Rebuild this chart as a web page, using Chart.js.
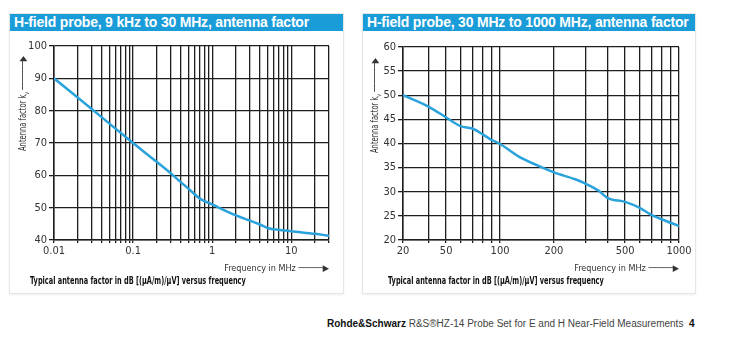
<!DOCTYPE html>
<html>
<head>
<meta charset="utf-8">
<script src="https://cdn.jsdelivr.net/npm/chart.js@4.4.1/dist/chart.umd.min.js"></script>
<style>
    body { margin: 0; width: 731px; height: 347px; background: #fff; position: relative; overflow: hidden; }
    .panel { position: absolute; top: 13px; height: 279px; border: 1px solid #e6e6e6; box-shadow: 0 1px 2px #eee; background: #fff; }
    .title { height: 17px; background: #1a9cd8; color: #fff; font: bold 14px 'Liberation Sans', Arial, sans-serif; letter-spacing: -0.2px; line-height: 17px; padding-left: 4px; white-space: nowrap; overflow: hidden; }
    .panel canvas { position: absolute; left: 0; top: 17px; }
    .caption { position: absolute; top: 261px; font: bold 10px 'DejaVu Sans Condensed', sans-serif; color: #111; white-space: nowrap; transform-origin: left top; transform: scaleX(0.73); }
    .ytitle { position: absolute; font: 10px 'DejaVu Sans Condensed', sans-serif; color: #333; white-space: nowrap; line-height: 11px; transform-origin: left top; transform: rotate(-90deg) scaleX(0.75); }
    .ytitle sub { font-size: 7px; }
    .footer { position: absolute; left: 327px; top: 318px; font: 10px 'Liberation Sans', Arial, sans-serif; color: #444; white-space: nowrap; }
    .footer b { color: #111; }
</style>
</head>
<body>
<div class="panel" id="p1" style="left:9px; width:333px;">
    <div class="title">H-field probe, 9 kHz to 30 MHz, antenna factor</div>
    <canvas id="chart1"></canvas>
    <div class="ytitle" style="left:7px; top:137px;">Antenna factor k<sub>v</sub> &#x2500;&#x2500;&#x2500;&#x2500;&#x2500;&#x2500;&#x2500;&#x25B6;</div>
    <div class="caption" style="left:20px;">Typical antenna factor in dB [(μA/m)/μV] versus frequency</div>
</div>
<div class="panel" id="p2" style="left:362px; width:332px;">
    <div class="title">H-field probe, 30 MHz to 1000 MHz, antenna factor</div>
    <canvas id="chart2"></canvas>
    <div class="ytitle" style="left:6px; top:139px;">Antenna factor k<sub>v</sub> &#x2500;&#x2500;&#x2500;&#x2500;&#x2500;&#x2500;&#x2500;&#x25B6;</div>
    <div class="caption" style="left:25px;">Typical antenna factor in dB [(μA/m)/μV] versus frequency</div>
</div>
<div class="footer"><b>Rohde&amp;Schwarz</b> R&amp;S®HZ-14 Probe Set for E and H Near-Field Measurements&nbsp; <b>4</b></div>

<script>
// 9 kHz .. 30 MHz probe
const lowFreq = [0.01, 0.03, 0.1, 0.2, 0.3, 0.4, 0.5, 0.7, 1, 2, 3, 4, 5, 6, 8, 10, 20, 30];
const lowFactor = [90, 80.5, 70, 64.1, 60.6, 57.9, 55.9, 52.8, 51, 47.6, 46, 44.8, 43.7, 43.3, 43, 42.7, 41.9, 41.3];
const lowGrid = [0.01, 0.02, 0.03, 0.04, 0.05, 0.06, 0.07, 0.08, 0.09,
    0.1, 0.2, 0.3, 0.4, 0.5, 0.6, 0.7, 0.8, 0.9,
    1, 2, 3, 4, 5, 6, 7, 8, 9, 10, 20, 30];
const lowTickValues = [0.01, 0.1, 1, 10];
const lowTickLabels = ['0.01', '0.1', '1', '10'];

// 30 .. 1000 MHz probe (left edge of the printed axis is labelled "20")
const highFreq = [28.7, 40, 50, 60, 70, 80, 90, 100, 126, 163, 200, 263, 300, 356, 400, 500, 600, 700, 800, 1000];
const highFactor = [50, 47.6, 45.4, 43.6, 43.1, 41.9, 40.7, 39.9, 37.4, 35.4, 34, 32.6, 31.7, 30.2, 28.7, 27.9, 26.7, 25.2, 24.3, 22.9];
const highGrid = [28.7, 40, 50, 60, 70, 80, 90, 100, 200, 300, 400, 500, 600, 700, 800, 900, 1000];
const highTickValues = [28.7, 50, 100, 200, 500, 1000];
const highTickLabels = ['20', '50', '100', '200', '500', '1000'];

const narrow = "'DejaVu Sans Condensed', sans-serif";
const lineColor = '#2aa3dc';
const gridColor = '#1e1e1e';

function createProbeChart(canvasId, size, opts) {
    const canvas = document.getElementById(canvasId);
    canvas.width = size.w;
    canvas.height = size.h;
    const points = opts.freq.map((f, i) => ({ x: f, y: opts.factor[i] }));

    new Chart(canvas.getContext('2d'), {
        type: 'line',
        data: {
            datasets: [{
                data: points,
                borderColor: lineColor,
                borderWidth: 2.5,
                pointRadius: 0,
                cubicInterpolationMode: 'monotone',
                fill: false
            }]
        },
        options: {
            responsive: false,
            animation: false,
            layout: { padding: opts.padding },
            plugins: { legend: { display: false }, tooltip: { enabled: false } },
            scales: {
                x: {
                    type: 'logarithmic',
                    min: opts.xMin,
                    max: opts.xMax,
                    afterBuildTicks: scale => { scale.ticks = opts.grid.map(v => ({ value: v })); },
                    afterFit: scale => { scale.height = 34; },
                    grid: { color: gridColor, lineWidth: 1.3, tickLength: 3 },
                    border: { color: gridColor, width: 1.5 },
                    ticks: {
                        autoSkip: false,
                        maxRotation: 0,
                        padding: 2,
                        color: '#333',
                        font: { family: narrow, size: 11 },
                        callback: value => {
                            const idx = opts.tickValues.indexOf(value);
                            return idx >= 0 ? opts.tickLabels[idx] : '';
                        }
                    },
                    title: {
                        display: true,
                        text: 'Frequency in MHz \u2500\u2500\u2500\u2500\u2500\u25B6',
                        align: 'end',
                        color: '#333',
                        padding: { top: 0, bottom: 0 },
                        font: { family: narrow, size: 9 }
                    }
                },
                y: {
                    min: opts.yMin,
                    max: opts.yMax,
                    afterFit: scale => { scale.width = opts.yWidth; },
                    grid: { color: gridColor, lineWidth: 1.3, tickLength: 5 },
                    border: { color: gridColor, width: 1.5 },
                    ticks: {
                        stepSize: opts.yStep,
                        padding: 2,
                        color: '#333',
                        font: { family: narrow, size: 11 }
                    }
                }
            }
        }
    });
}

createProbeChart('chart1', { w: 333, h: 263 }, {
    freq: lowFreq, factor: lowFactor, grid: lowGrid,
    tickValues: lowTickValues, tickLabels: lowTickLabels,
    xMin: 0.01, xMax: 30, yMin: 40, yMax: 100, yStep: 10,
    yWidth: 44, padding: { left: 0, right: 14, top: 15, bottom: 20 }
});

createProbeChart('chart2', { w: 332, h: 263 }, {
    freq: highFreq, factor: highFactor, grid: highGrid,
    tickValues: highTickValues, tickLabels: highTickLabels,
    xMin: 28.7, xMax: 1000, yMin: 20, yMax: 60, yStep: 5,
    yWidth: 40, padding: { left: 0, right: 16, top: 16, bottom: 20 }
});
</script>
</body>
</html>
